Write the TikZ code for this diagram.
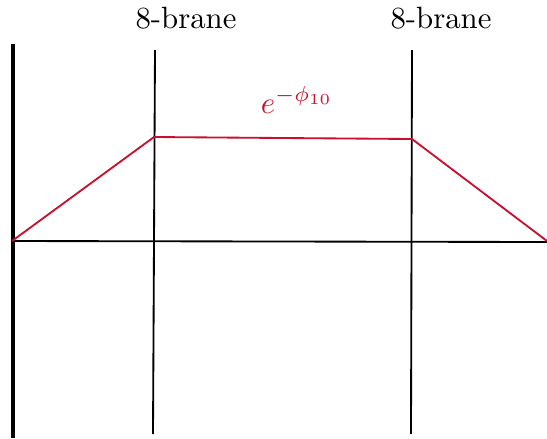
\documentclass[tikz,border=0pt]{standalone}
\definecolor{redline}{RGB}{200,16,46}
\begin{document}
\begin{tikzpicture}[x=0.325pt,y=-0.325pt,
  thinline/.style={black,line width=0.6pt},
  thickline/.style={black,line width=1.5pt},
  profile/.style={redline,line width=0.6pt}]
\useasboundingbox (0,0) rectangle (547,438);
\coordinate (wt) at (13,44);
\coordinate (wb) at (13,438);
\draw[thickline] (wt) -- (wb);
\coordinate (hl) at (12,241);
\coordinate (hr) at (547,242);
\draw[thinline] (hl) -- (hr);
\coordinate (b1t) at (155,50);
\coordinate (b1b) at (153,434);
\coordinate (b2t) at (412,50);
\coordinate (b2b) at (411,434);
\draw[thinline] (b1t) -- (b1b);
\draw[thinline] (b2t) -- (b2b);
\node[anchor=base] (l1) at (186,28) {8-brane};
\node[anchor=base] (l2) at (441,28) {8-brane};
\coordinate (p0) at (12,241);
\coordinate (p1) at (154,137);
\coordinate (p2) at (412,139);
\coordinate (p3) at (547,241);
\draw[profile] (p0) -- (p1) -- (p2) -- (p3);
\node[redline,anchor=base] (phi) at (297,113) {$e^{-\phi_{10}}$};
\end{tikzpicture}
\end{document}
